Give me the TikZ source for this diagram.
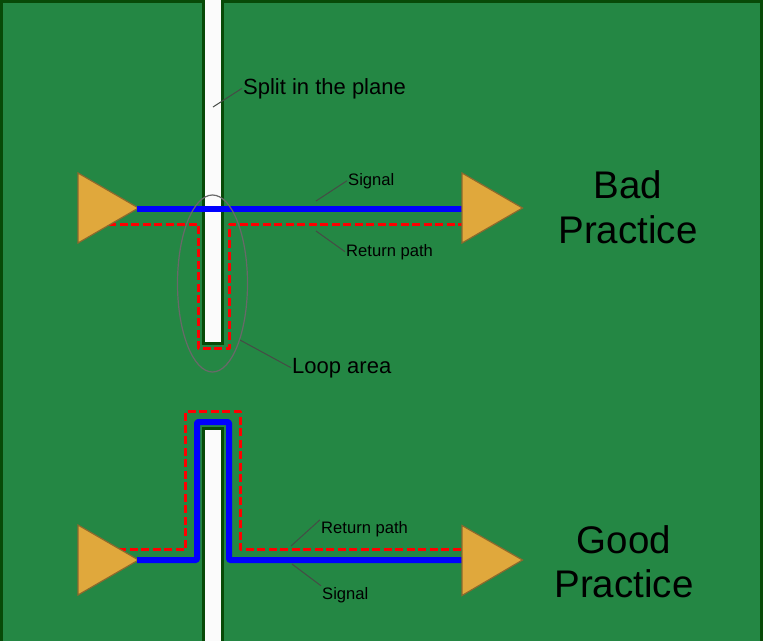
\documentclass[tikz,border=0pt]{standalone}
\usepackage{fontspec}
\setmainfont{Liberation Sans}
\definecolor{board}{RGB}{36,135,68}
\definecolor{edgegreen}{RGB}{8,74,8}
\definecolor{slitwhite}{RGB}{251,251,251}
\definecolor{ampfill}{RGB}{224,168,60}
\definecolor{ampedge}{RGB}{140,105,45}
\definecolor{leadergray}{RGB}{70,75,70}
\definecolor{loopgray}{RGB}{105,105,105}
\definecolor{tracered}{RGB}{255,0,0}
\definecolor{traceblue}{RGB}{0,0,255}
\tikzset{
  amp/.style={fill=ampfill,draw=ampedge,line width=1.2pt,line join=miter},
  signaltrace/.style={draw=traceblue,line width=6pt,line join=round,rounded corners=1pt},
  returntrace/.style={draw=tracered,line width=3pt,dash pattern=on 8pt off 3.5pt,line join=round},
  leader/.style={draw=leadergray,line width=1pt},
  smalllabel/.style={font=\fontsize{16.6}{20}\selectfont,inner sep=1pt,anchor=base west},
  midlabel/.style={font=\fontsize{22}{26}\selectfont,inner sep=1pt,anchor=base west},
  biglabel/.style={font=\fontsize{38.5}{45}\selectfont,inner sep=0pt,anchor=base}
}
\begin{document}
\begin{tikzpicture}[x=1pt,y=-1pt]
\useasboundingbox (0,0) rectangle (769,641);
% plane
\fill[white] (0,0) rectangle (769,641);
\fill[edgegreen] (0,0) rectangle (763,641);
\fill[board] (3,3) rectangle (760,641);
% split
\fill[edgegreen] (202,0) rectangle (224,344.5);
\fill[slitwhite] (205,0) rectangle (221,342);
\fill[edgegreen] (202,427) rectangle (224,641);
\fill[slitwhite] (205,430) rectangle (221,641);
% return paths
\coordinate (brl) at (108,224);
\coordinate (brr) at (463,224);
\draw[returntrace] (brl) -- (198,224) -- (198,348) -- (229,348) -- (229,224) -- (brr);
\coordinate (grl) at (118,549);
\coordinate (grr) at (463,549);
\draw[returntrace] (grl) -- (185.7,549) -- (185.7,411.7) -- (240.3,411.7) -- (240.3,549) -- (grr);
% source amplifiers
\draw[amp] (78,173) -- (78,243) -- (138.5,208) -- cycle;
\draw[amp] (78,525) -- (78,595) -- (138.5,560) -- cycle;
% signals
\coordinate (bsl) at (137,208.7);
\coordinate (bsr) at (463,208.7);
\draw[signaltrace] (bsl) -- (bsr);
\coordinate (gsl) at (137,560);
\coordinate (gsr) at (463,560);
\draw[signaltrace] (gsl) -- (197,560) -- (197,422) -- (229,422) -- (229,560) -- (gsr);
% load amplifiers
\draw[amp] (462,173) -- (462,243) -- (522.5,208) -- cycle;
\draw[amp] (462,525.5) -- (462,595.5) -- (522.5,560) -- cycle;
% loop ellipse
\draw[draw=loopgray,line width=1.2pt] (212.5,283.5) ellipse [x radius=35,y radius=88.5];
% labels
\node[midlabel] (splitlabel) at (242,94) {Split in the plane};
\node[smalllabel] (signaltop) at (347,185) {Signal};
\node[smalllabel] (returntop) at (345,256) {Return path};
\node[midlabel] (looplabel) at (291,373) {Loop area};
\node[smalllabel] (returnbot) at (320,533) {Return path};
\node[smalllabel] (signalbot) at (321,599) {Signal};
\node[biglabel] (badword) at (628,198) {Bad};
\node[biglabel] (badprac) at (628,243) {Practice};
\node[biglabel] (goodword) at (624,553) {Good};
\node[biglabel] (goodprac) at (624,597) {Practice};
% leaders
\coordinate (splitpt) at (213,107);
\coordinate (sigtoppt) at (316,201);
\coordinate (rettoppt) at (316,231);
\coordinate (looppt) at (240,340);
\coordinate (retbotpt) at (291,546);
\coordinate (sigbotpt) at (292,564);
\draw[leader] (splitpt) -- (splitlabel.west);
\draw[leader] (sigtoppt) -- (signaltop.west);
\draw[leader] (rettoppt) -- (returntop.west);
\draw[leader] (looppt) -- (looplabel.west);
\draw[leader] (retbotpt) -- (returnbot.north west);
\draw[leader] (sigbotpt) -- (signalbot.north west);
\end{tikzpicture}
\end{document}
